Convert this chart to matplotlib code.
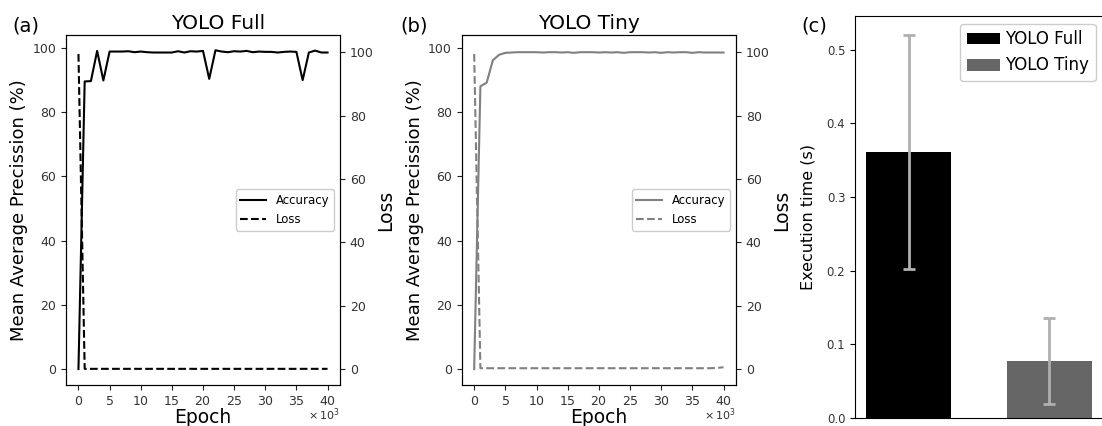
import matplotlib
matplotlib.use("Agg")
import matplotlib.pyplot as plt
from matplotlib.ticker import MultipleLocator
import numpy as np

plt.rcParams['font.family'] = ['DejaVu Sans']

# ---- data ----
epochs = [k * 1000 for k in range(41)]
full_acc = [0, 89.5, 89.6, 99.0, 89.8, 98.8, 98.8, 98.8, 98.9, 98.6,
            98.8, 98.6, 98.5, 98.5, 98.5, 98.5, 98.9, 98.5, 98.9, 98.8,
            99.0, 90.3, 99.2, 98.8, 98.6, 98.9, 98.8, 99.0, 98.6, 98.8,
            98.7, 98.7, 98.5, 98.7, 98.8, 98.7, 89.9, 98.5, 99.1, 98.5, 98.5]
full_loss = [99.5] + [0.1] * 40
tiny_acc = [0, 88.0, 89.1, 96.1, 97.8, 98.4, 98.5, 98.6, 98.6, 98.6,
            98.6, 98.5, 98.6, 98.6, 98.5, 98.6, 98.4, 98.6, 98.6, 98.6,
            98.5, 98.6, 98.5, 98.6, 98.4, 98.6, 98.6, 98.6, 98.5, 98.6,
            98.4, 98.6, 98.5, 98.6, 98.6, 98.4, 98.6, 98.5, 98.5, 98.5, 98.5]
tiny_loss = [99.5] + [0.3] * 38 + [0.4, 0.6]

models = ["YOLO Full", "YOLO Tiny"]
exec_time = [0.361, 0.077]
exec_err = [0.159, 0.058]

W, H = 1102, 426
fig = plt.figure(figsize=(W / 100, H / 100), dpi=100)

def px_axes(l, r, t, b):
    return fig.add_axes([l / W, (H - b) / H, (r - l) / W, (b - t) / H])

def line_panel(ax, acc, loss, color, title, tx, label, lx, right_px):
    ax2 = ax.twinx()
    l1, = ax.plot(epochs, acc, color=color, lw=1.5, label='Accuracy')
    l2, = ax2.plot(epochs, loss, color=color, lw=1.5, ls='--', label='Loss')
    ax.set_ylim(-4.95, 103.95)
    ax2.set_ylim(-5, 105.5)
    for a in (ax, ax2):
        a.yaxis.set_major_locator(MultipleLocator(20))
        a.tick_params(labelsize=9, colors='#222222', labelcolor='#333333')
    ax.xaxis.set_major_locator(MultipleLocator(5000))
    ax.ticklabel_format(axis='x', style='sci', scilimits=(3, 3), useMathText=True)
    ax.xaxis.get_offset_text().set_visible(False)
    fig.text(right_px / W, 1 - 420 / H, r'$\times\,10^{3}$', fontsize=8,
             ha='right', va='baseline', color='#333333')
    ax.set_xlabel('Epoch', fontsize=13.5, labelpad=0)
    ax.set_ylabel('Mean Average Precission (%)', fontsize=13, labelpad=3)
    ax2.set_ylabel('Loss', fontsize=13.5, labelpad=2)
    ax.legend([l1, l2], ['Accuracy', 'Loss'], loc='center right', fontsize=8.5,
              handlelength=2.2, framealpha=1, edgecolor='#cccccc')
    fig.text(tx / W, 1 - 29 / H, title, fontsize=14.5, ha='center', va='baseline')
    fig.text(lx / W, 1 - 31 / H, label, fontsize=14, ha='left', va='baseline')

ax_a = px_axes(66, 340, 35, 385)
line_panel(ax_a, full_acc, full_loss, 'black', 'YOLO Full', 218, '(a)', 12, 340)

ax_b = px_axes(461.7, 736, 35, 385)
line_panel(ax_b, tiny_acc, tiny_loss, '#808080', 'YOLO Tiny', 589, '(b)', 400, 736)

ax_c = px_axes(855, 1103, 16, 417.7)
bar_colors = ['black', '#666666']
for i, (m, v, e) in enumerate(zip(models, exec_time, exec_err)):
    ax_c.bar(i, v, width=0.6, color=bar_colors[i], label=m,
             yerr=e, ecolor='#b0b0b0', capsize=4.5,
             error_kw=dict(elinewidth=2, capthick=2))
ax_c.set_xticks([])
ax_c.yaxis.set_major_locator(MultipleLocator(0.1))
ax_c.tick_params(labelsize=8.5, labelcolor='#333333')
ax_c.set_ylabel('Execution time (s)', fontsize=11.5, labelpad=8)
ax_c.legend(loc='upper right', fontsize=12, framealpha=1, edgecolor='#cccccc',
            handlelength=2.0, handleheight=0.7, borderaxespad=0.45,
            handletextpad=0.3)
fig.text(801 / W, 1 - 32 / H, '(c)', fontsize=14, ha='left', va='baseline')

fig.savefig('out.png', dpi=100)
